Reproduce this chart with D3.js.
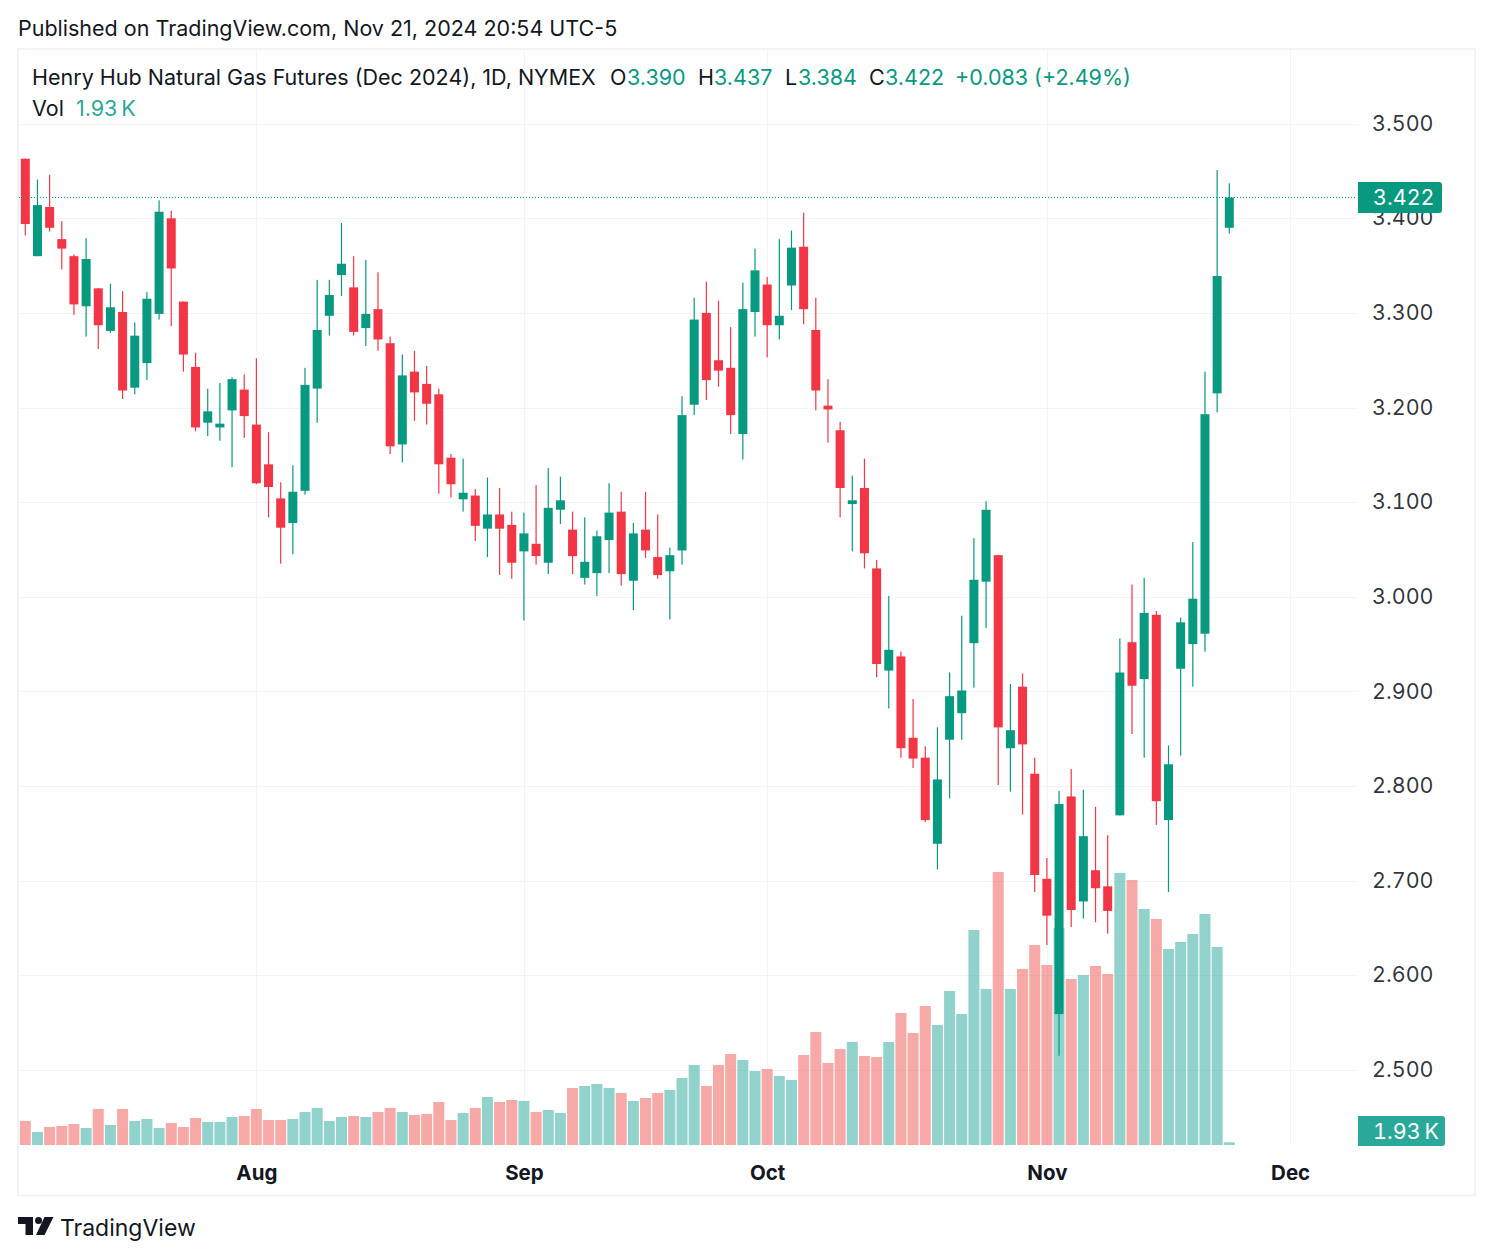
<!DOCTYPE html>
<html>
<head>
<meta charset="utf-8">
<title>Henry Hub Natural Gas Futures</title>
<script src="https://cdn.jsdelivr.net/npm/d3@7"></script>
<style>
  html, body { margin: 0; padding: 0; background: #fff; }
  svg { display: block; font-family: Inter, "Noto Sans", sans-serif; }
  .price-axis text, .axis-label { font-variant-numeric: tabular-nums; }
</style>
</head>
<body>
<svg id="chart" width="1493" height="1259"></svg>
<script>
const opens = [
  3.463,3.360,3.412,3.378,3.360,3.307,3.326,3.281,3.301,3.221,
  3.247,3.299,3.400,3.312,3.243,3.184,3.179,3.197,3.219,3.182,
  3.140,3.104,3.078,3.112,3.220,3.297,3.340,3.327,3.284,3.304,
  3.268,3.161,3.238,3.225,3.214,3.147,3.103,3.107,3.072,3.087,
  3.076,3.048,3.056,3.036,3.092,3.071,3.020,3.025,3.060,3.090,
  3.017,3.071,3.042,3.027,3.049,3.203,3.300,3.250,3.242,3.172,
  3.301,3.330,3.287,3.329,3.370,3.282,3.202,3.176,3.098,3.115,
  3.030,2.922,2.937,2.851,2.830,2.739,2.849,2.877,2.951,3.016,
  3.044,2.840,2.905,2.813,2.702,2.559,2.789,2.678,2.711,2.694,
  2.769,2.952,2.913,2.981,2.764,2.924,2.950,2.961,3.215,3.390
];
const highs = [
  3.463,3.441,3.446,3.397,3.362,3.379,3.326,3.331,3.323,3.290,
  3.322,3.419,3.408,3.312,3.258,3.220,3.226,3.232,3.235,3.252,
  3.174,3.121,3.139,3.242,3.335,3.335,3.395,3.360,3.356,3.343,
  3.275,3.256,3.260,3.244,3.220,3.151,3.146,3.114,3.126,3.115,
  3.090,3.089,3.118,3.136,3.127,3.090,3.084,3.070,3.120,3.111,
  3.078,3.111,3.087,3.052,3.212,3.316,3.333,3.313,3.285,3.332,
  3.368,3.338,3.378,3.387,3.406,3.316,3.230,3.185,3.128,3.146,
  3.039,3.001,2.942,2.892,2.842,2.862,2.920,2.980,3.062,3.101,
  3.044,2.908,2.919,2.830,2.724,2.795,2.818,2.796,2.778,2.748,
  2.956,3.013,3.020,2.985,2.843,2.978,3.058,3.238,3.451,3.437
];
const lows = [
  3.382,3.360,3.386,3.346,3.298,3.275,3.262,3.279,3.209,3.214,
  3.229,3.293,3.286,3.238,3.175,3.170,3.165,3.137,3.168,3.119,
  3.084,3.035,3.045,3.108,3.184,3.276,3.318,3.276,3.265,3.260,
  3.151,3.142,3.186,3.182,3.109,3.105,3.090,3.059,3.042,3.023,
  3.019,2.975,3.034,3.024,3.077,3.024,3.013,3.001,3.025,3.012,
  2.986,3.041,3.019,2.976,3.034,3.192,3.208,3.222,3.172,3.145,
  3.275,3.253,3.272,3.303,3.288,3.197,3.163,3.084,3.048,3.030,
  2.915,2.882,2.830,2.819,2.762,2.712,2.787,2.849,2.904,2.967,
  2.801,2.794,2.770,2.688,2.632,2.515,2.651,2.660,2.656,2.644,
  2.769,2.855,2.830,2.759,2.688,2.832,2.905,2.942,3.195,3.384
];
const closes = [
  3.394,3.414,3.390,3.368,3.309,3.357,3.287,3.306,3.218,3.276,
  3.315,3.407,3.347,3.256,3.179,3.196,3.183,3.230,3.191,3.120,
  3.116,3.073,3.111,3.224,3.282,3.319,3.352,3.280,3.299,3.272,
  3.159,3.234,3.216,3.204,3.140,3.119,3.110,3.075,3.087,3.072,
  3.036,3.067,3.043,3.094,3.102,3.043,3.037,3.064,3.089,3.024,
  3.067,3.049,3.023,3.044,3.192,3.293,3.229,3.239,3.192,3.304,
  3.345,3.287,3.297,3.369,3.304,3.218,3.198,3.115,3.102,3.046,
  2.929,2.944,2.840,2.829,2.764,2.807,2.895,2.901,3.018,3.092,
  2.862,2.859,2.844,2.706,2.663,2.781,2.669,2.747,2.692,2.668,
  2.920,2.906,2.983,2.784,2.823,2.973,2.998,3.193,3.339,3.422
];
// volume in thousands
const volumes = [
  16.8,9.1,12.6,13.3,14.7,11.9,25.2,14,25.2,16.8,
  18.2,11.9,15.4,12.6,18.9,16.1,16.1,19.6,20.3,25.2,
  17.5,17.5,18.2,23.1,25.9,16.8,19.6,20.3,19.6,23.1,
  25.9,23.1,21,21.7,30.1,17.5,22.4,25.9,33.6,30.1,
  31.5,30.8,23.1,24.5,22.4,39.9,41.3,42.7,39.9,36.4,
  30.8,32.9,36.4,38.5,46.9,56,41.3,56,63.7,59.5,
  51.8,53.2,48.3,45.5,63,79.1,57.4,67.2,72.1,62.3,
  61.6,72.1,92.4,78.4,97.3,84,107.8,91.7,150.5,109.2,
  191.1,109.2,123.2,140,126,151.9,116.2,119,125.3,119.7,
  190.4,185.5,165.2,158.2,137.2,142.1,147.7,161.7,138.6,1.93
];
const priceTicks = [2.5,2.6,2.7,2.8,2.9,3.0,3.1,3.2,3.3,3.4,3.5];
const monthTicks = [19,41,61,84,104];
const monthLabels = ["Aug","Sep","Oct","Nov","Dec"];
const legendParts = [["O","3.390"],["H","3.437"],["L","3.384"],["C","3.422"]];

const GREEN = "#089981", RED = "#f23645";
const GRID = "#f3f4f8", FRAME = "#f0f3fa", INK = "#131722";

const svg = d3.select("#chart");
const left = 19, right = 1357, bottom = 1145;

const x = d3.scaleLinear().domain([0, 99]).range([25.3, 1229.3]);
const y = d3.scaleLinear().domain([2.5, 3.5]).range([1069.9, 123.7]);
const yVol = d3.scaleLinear().domain([0, 191.1]).range([bottom, 872]);

const candles = d3.range(opens.length).map(i => ({
  i, o: opens[i], h: highs[i], l: lows[i], c: closes[i], v: volumes[i], up: closes[i] >= opens[i]
}));
const lastClose = closes[closes.length - 1];

// frame
svg.append("rect").attr("x", 18).attr("y", 49).attr("width", 1457).attr("height", 1146.5)
  .attr("fill", "#fff").attr("stroke", FRAME).attr("stroke-width", 2);

// grid
svg.append("g").selectAll("line").data(priceTicks).join("line")
  .attr("x1", left).attr("x2", right)
  .attr("y1", d => Math.round(y(d)) + .5).attr("y2", d => Math.round(y(d)) + .5)
  .attr("stroke", GRID);
svg.append("g").selectAll("line").data(monthTicks).join("line")
  .attr("x1", d => Math.round(x(d)) + .5).attr("x2", d => Math.round(x(d)) + .5)
  .attr("y1", 50).attr("y2", bottom)
  .attr("stroke", GRID);

// volume
svg.append("g").selectAll("rect").data(candles).join("rect")
  .attr("x", d => x(d.i) - 5.5)
  .attr("width", 11)
  .attr("y", d => yVol(d.v))
  .attr("height", d => bottom - yVol(d.v))
  .attr("fill", d => d.up ? "#26a69a" : "#ef5350")
  .attr("fill-opacity", .5);

// candles
const candle = svg.append("g").selectAll("g").data(candles).join("g")
  .attr("fill", d => d.up ? GREEN : RED);
candle.append("rect")
  .attr("x", d => x(d.i) - .6).attr("width", 1.2)
  .attr("y", d => y(d.h)).attr("height", d => y(d.l) - y(d.h));
candle.append("rect")
  .attr("x", d => x(d.i) - 4.5).attr("width", 9)
  .attr("y", d => y(Math.max(d.o, d.c)))
  .attr("height", d => Math.max(3, Math.abs(y(d.o) - y(d.c))));

// last price line
svg.append("line")
  .attr("x1", left).attr("x2", right)
  .attr("y1", y(lastClose)).attr("y2", y(lastClose))
  .attr("stroke", GREEN).attr("stroke-width", 1).attr("stroke-dasharray", "1 2");

// price axis
const yAxis = svg.append("g").attr("class", "price-axis").attr("transform", `translate(${right},0)`)
  .call(d3.axisRight(y).tickValues(priceTicks).tickFormat(d3.format(".3f")).tickSize(0).tickPadding(15));
yAxis.select(".domain").remove();
yAxis.selectAll("text").attr("fill", INK).style("font-size", "21.5px").style("font-family", "Inter")
  .attr("fill-opacity", .88).attr("dy", ".31em");

// time axis
const xAxis = svg.append("g").attr("transform", `translate(0,${bottom})`)
  .call(d3.axisBottom(x).tickValues(monthTicks).tickFormat((d, i) => monthLabels[i]).tickSize(0).tickPadding(20));
xAxis.select(".domain").remove();
xAxis.selectAll("text").attr("fill", INK).style("font-size", "20.5px").style("font-weight", 700).style("font-family", "Inter");

// axis labels
function axisLabel(x0, y0, w, h, color, label, tx) {
  svg.append("path")
    .attr("d", `M${x0} ${y0}H${x0 + w - 3}a3 3 0 0 1 3 3V${y0 + h - 3}a3 3 0 0 1 -3 3H${x0}Z`)
    .attr("fill", color);
  svg.append("text").attr("class", "axis-label").attr("x", tx).attr("y", y0 + h / 2).attr("dy", ".36em")
    .attr("fill", "#fff").style("font-size", "21.5px").text(label);
}
axisLabel(1358, 182, 84, 31, GREEN, d3.format(".3f")(lastClose), 1373);
axisLabel(1358, 1116, 87, 30, "#2aa899", "1.93\u2009K", 1373);

// header and legend
function txt(x0, y0, s, fill, size, weight) {
  return svg.append("text").attr("x", x0).attr("y", y0).attr("fill", fill)
    .style("font-size", size + "px").style("font-weight", weight || 400).text(s);
}
txt(18, 36, "Published on TradingView.com, Nov 21, 2024 20:54 UTC-5", INK, 21.5);
txt(32, 85, "Henry Hub Natural Gas Futures (Dec 2024), 1D, NYMEX", INK, 21.5);
const letterX = [610, 698, 785, 869], valueX = [627, 714, 798, 885];
legendParts.forEach((p, i) => {
  txt(letterX[i], 85, p[0], INK, 21.5);
  txt(valueX[i], 85, p[1], GREEN, 21.5);
});
txt(955, 85, "+0.083 (+2.49%)", GREEN, 21.5);
txt(32, 116, "Vol", INK, 21.5);
txt(76, 116, "1.93\u2009K", "#2aa899", 21.5);

// logo
const logo = svg.append("g").attr("transform", "translate(18,1217)").attr("fill", INK);
logo.append("path").attr("d", "M0 0H15V18H7.5V7H0Z");
logo.append("circle").attr("cx", 20.5).attr("cy", 3.5).attr("r", 3.5);
logo.append("path").attr("d", "M26.5 0H35.5L26.5 18H18Z");
txt(60, 1236, "TradingView", INK, 23);
</script>
</body>
</html>
